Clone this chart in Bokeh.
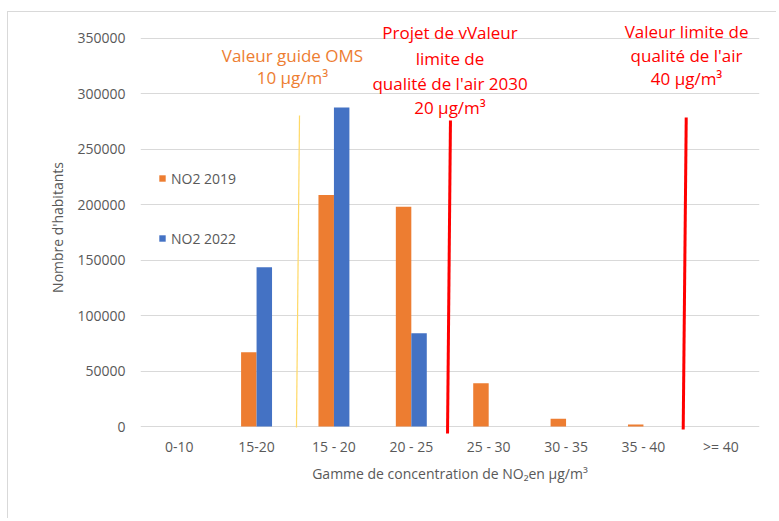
from bokeh.plotting import figure
from bokeh.models import (ColumnDataSource, FactorRange, Range1d, FixedTicker,
                          Legend, LegendItem, NumeralTickFormatter)
from bokeh.transform import dodge
from bokeh.core.properties import value
from bokeh.embed import file_html
from bokeh.resources import INLINE

# ---------------- data ----------------
categories = ["0-10", "15-20", "15 - 20", "20 - 25", "25 - 30", "30 - 35", "35 - 40", ">= 40"]
no2_2019 = [0, 67000, 208500, 198000, 39000, 7000, 1800, 0]
no2_2022 = [0, 143500, 287500, 84000, 0, 0, 0, 0]
y_ticks = [0, 50000, 100000, 150000, 200000, 250000, 300000, 350000]

# threshold lines (position in category units, slight slant as in the original)
thr_x_top = [2.055, 4.006, 7.053]
thr_x_bottom = [2.016, 3.968, 7.014]
thr_y_top = [280200, 275700, 278400]
thr_y_bottom = [-900, -6300, -2700]
thr_colors = ["#FFD966", "#FF0000", "#FF0000"]
thr_widths = [1.2, 3, 3]

# annotation texts
oms_lines = ["Valeur guide OMS", "10 µg/m³"]
oms_x = [1.964, 1.964]
oms_y = [334300, 314400]
proj_lines = ["Projet de vValeur", "limite de", "qualité de l'air 2030", "20 µg/m³"]
proj_x = [4.0, 4.0, 4.0, 4.0]
proj_y = [355000, 331500, 309000, 287500]
lim_lines = ["Valeur limite de", "qualité de l'air", "40 µg/m³"]
lim_x = [7.057, 7.057, 7.057]
lim_y = [355900, 334300, 313600]

ORANGE = "#ED7D31"
BLUE = "#4472C4"
GRID = "#D9D9D9"
TXT = "#595959"
FONT = "Open Sans"

src = ColumnDataSource(dict(cat=categories, a=no2_2019, b=no2_2022))

p = figure(width=769, height=507, output_backend="svg", toolbar_location=None,
           x_range=FactorRange(*categories, range_padding=0),
           y_range=Range1d(-7200, 365800),
           min_border_left=132, min_border_right=18, min_border_top=8, min_border_bottom=85)
p.styles = {"border-left": "1px solid #D9D9D9", "border-top": "1px solid #D9D9D9",
            "margin-left": "7px", "margin-top": "11px"}
p.outline_line_color = None
p.background_fill_color = "white"
p.border_fill_color = "white"

r1 = p.vbar(x=dodge("cat", -0.1, range=p.x_range), top="a", width=0.2, source=src,
            fill_color=ORANGE, line_color=None)
r2 = p.vbar(x=dodge("cat", 0.1, range=p.x_range), top="b", width=0.2, source=src,
            fill_color=BLUE, line_color=None)

# threshold lines
p.segment(x0=thr_x_bottom, y0=thr_y_bottom, x1=thr_x_top, y1=thr_y_top,
          line_color=thr_colors, line_width=thr_widths)

# annotation texts
p.text(x=oms_x, y=oms_y, text=oms_lines, text_color=ORANGE, text_font=value(FONT),
       text_font_size="17px", text_align="center", text_baseline="middle")
p.text(x=proj_x, y=proj_y, text=proj_lines, text_color="#FF0000", text_font=value(FONT),
       text_font_size="17px", text_align="center", text_baseline="middle")
p.text(x=lim_x, y=lim_y, text=lim_lines, text_color="#FF0000", text_font=value(FONT),
       text_font_size="17px", text_align="center", text_baseline="middle")

# axes
p.yaxis.ticker = FixedTicker(ticks=y_ticks)
p.yaxis.formatter = NumeralTickFormatter(format="0")
p.yaxis.axis_line_color = None
p.yaxis.major_tick_line_color = None
p.yaxis.minor_tick_line_color = None
p.yaxis.major_tick_out = 0
p.yaxis.major_tick_in = 0
p.yaxis.major_label_standoff = 15
p.yaxis.major_label_text_font = FONT
p.yaxis.major_label_text_font_size = "14px"
p.yaxis.major_label_text_color = TXT
p.yaxis.axis_label = "Nombre d'habitants"
p.yaxis.axis_label_text_font = FONT
p.yaxis.axis_label_text_font_size = "14px"
p.yaxis.axis_label_text_font_style = "normal"
p.yaxis.axis_label_text_color = TXT
p.yaxis.axis_label_standoff = 7

p.xaxis.axis_line_color = None
p.xaxis.major_tick_line_color = None
p.xaxis.minor_tick_line_color = None
p.xaxis.major_tick_out = 0
p.xaxis.major_tick_in = 0
p.xaxis.major_label_standoff = 2
p.xaxis.major_label_text_font = FONT
p.xaxis.major_label_text_font_size = "14px"
p.xaxis.major_label_text_color = TXT
p.xaxis.axis_label = "Gamme de concentration de NO₂en µg/m³"
p.xaxis.axis_label_text_font = FONT
p.xaxis.axis_label_text_font_size = "14px"
p.xaxis.axis_label_text_font_style = "normal"
p.xaxis.axis_label_text_color = TXT
p.xaxis.axis_label_standoff = 5

p.xgrid.grid_line_color = None
p.ygrid.grid_line_color = GRID
p.ygrid.grid_line_width = 1

legend = Legend(items=[LegendItem(label="NO2 2019", renderers=[r1]),
                       LegendItem(label="NO2 2022", renderers=[r2])],
                location=(18, 186), orientation="vertical",
                glyph_width=8, glyph_height=8, label_standoff=5, spacing=40,
                padding=0, margin=0, border_line_color=None, background_fill_alpha=0,
                label_text_font=FONT, label_text_font_size="14px", label_text_color=TXT,
                label_height=20)
p.add_layout(legend, "center")

open("out.html", "w").write(file_html(p, INLINE))
